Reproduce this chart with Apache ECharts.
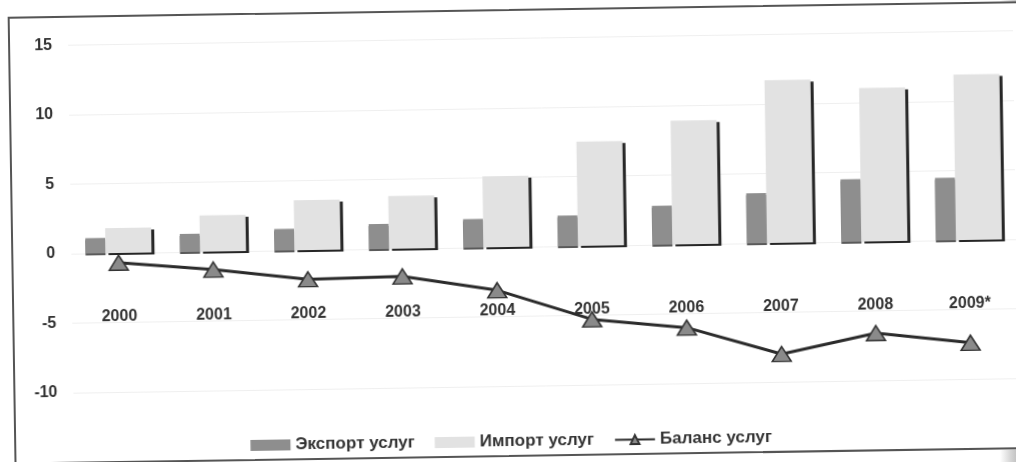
<!DOCTYPE html>
<html>
<head>
<meta charset="utf-8">
<script src="https://cdn.jsdelivr.net/npm/echarts@6/dist/echarts.min.js"></script>
<style>
  html, body { margin: 0; padding: 0; width: 1016px; height: 462px; overflow: hidden;
    background: linear-gradient(to right, #ffffff 0px, #ffffff 1000px, #d8d8d8 1010px, #c4c4c4 1016px); }
  #wrap { position: absolute; left: 0; top: 0; width: 1016px; height: 462px;
    transform: rotate(-0.88deg); transform-origin: 508px 231px; }
  #frame { position: absolute; left: 11px; top: 9px; width: 1060px; height: 444px;
    border: 2px solid #555; background: #fff; }
  #chart { position: absolute; left: 0; top: 0; width: 1016px; height: 462px; }
</style>
</head>
<body>
<div id="wrap">
  <div id="frame"></div>
  <div id="chart"></div>
</div>
<script>
const years = ['2000', '2001', '2002', '2003', '2004', '2005', '2006', '2007', '2008', '2009*'];
const exportVals = [1.1, 1.3, 1.55, 1.8, 2.05, 2.2, 2.8, 3.6, 4.5, 4.5];
const importVals = [1.8, 2.6, 3.6, 3.8, 5.1, 7.5, 8.9, 11.7, 11.05, 11.9];
const balanceVals = [-0.7, -1.3, -2.1, -2.0, -3.1, -5.3, -6.0, -8.0, -6.6, -7.4];
const seriesNames = ['Экспорт услуг', 'Импорт услуг', 'Баланс услуг'];
const yMin = -10, yMax = 15, yStep = 5;

const gridTop = 38.5, gridBottom = 76, chartH = 462;
const gridH = chartH - gridTop - gridBottom;
// place category axis at the value-axis zero (the library's onZero equivalent)
const zeroOffset = -gridH * (0 - yMin) / (yMax - yMin);

const chart = echarts.init(document.getElementById('chart'), null, { renderer: 'canvas' });
const font = '"Liberation Sans", Arial, sans-serif';
chart.setOption({
  animation: false,
  backgroundColor: 'transparent',
  textStyle: { fontFamily: font },
  grid: { left: 71, right: -1, top: gridTop, bottom: gridBottom, containLabel: false },
  legend: {
    top: 428, left: 'center',
    itemWidth: 40, itemHeight: 11, itemGap: 20,
    textStyle: { fontSize: 17, fontWeight: 'bold', color: '#333', fontFamily: font },
    data: [
      { name: seriesNames[0], icon: 'rect' },
      { name: seriesNames[1], icon: 'rect' },
      { name: seriesNames[2] }
    ]
  },
  xAxis: {
    type: 'category', data: years, position: 'bottom', offset: zeroOffset,
    axisLine: { show: false, onZero: false },
    axisTick: { show: false },
    axisLabel: { margin: 56, fontSize: 16, fontWeight: 'bold', color: '#333', fontFamily: font },
    splitLine: { show: false }
  },
  yAxis: {
    type: 'value', min: yMin, max: yMax, interval: yStep,
    axisLine: { show: false }, axisTick: { show: false },
    axisLabel: { margin: 16, fontSize: 16, fontWeight: 'bold', color: '#333', fontFamily: font },
    splitLine: { show: true, lineStyle: { color: '#efefef', width: 1 } }
  },
  series: [
    {
      name: seriesNames[0], type: 'bar', data: exportVals, barWidth: 20, barGap: '0%',
      itemStyle: { color: '#8e8e8e', shadowColor: '#5a5a5a', shadowOffsetX: 0, shadowOffsetY: 2, shadowBlur: 0 }
    },
    {
      name: seriesNames[1], type: 'bar', data: importVals, barWidth: 46, barGap: '0%',
      itemStyle: { color: '#e2e2e2', shadowColor: '#262626', shadowOffsetX: 3, shadowOffsetY: 2, shadowBlur: 0 }
    },
    {
      name: seriesNames[2], type: 'line', data: balanceVals, z: 5,
      symbol: 'triangle', symbolSize: [19, 15],
      lineStyle: { color: '#2b2b2b', width: 3 },
      itemStyle: { color: '#8a8a8a', borderColor: '#333', borderWidth: 1.5 }
    }
  ]
});
</script>
</body>
</html>
